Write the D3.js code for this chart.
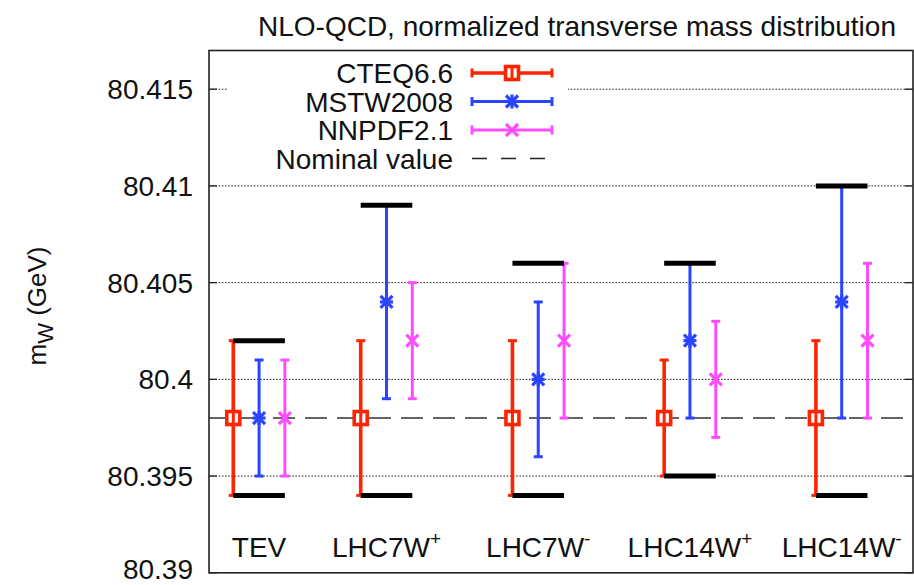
<!DOCTYPE html>
<html>
<head>
<meta charset="utf-8">
<script src="https://cdn.jsdelivr.net/npm/d3@7"></script>
<style>
  html, body { margin: 0; padding: 0; background: #fff; }
  svg { display: block; font-family: "Liberation Sans", Arial, Helvetica, sans-serif; }
</style>
</head>
<body>
<svg id="chart" width="914" height="585"></svg>
<script>
// Categories (collider / W charge) and their positions along x
const catMain = ["TEV", "LHC7W", "LHC7W", "LHC14W", "LHC14W"];
const catSup  = ["", "+", "-", "+", "-"];
const catX    = [0.16, 1, 2, 3, 4];

// Fitted W mass per PDF set: central value with lower/upper PDF uncertainty
const cteqCentral  = [80.398, 80.398, 80.398, 80.398, 80.398];
const cteqLow      = [80.394, 80.394, 80.394, 80.395, 80.394];
const cteqHigh     = [80.402, 80.402, 80.402, 80.401, 80.402];

const mstwCentral  = [80.398, 80.404, 80.400, 80.402, 80.404];
const mstwLow      = [80.395, 80.399, 80.396, 80.398, 80.398];
const mstwHigh     = [80.401, 80.409, 80.404, 80.406, 80.410];

const nnpdfCentral = [80.398, 80.402, 80.402, 80.400, 80.402];
const nnpdfLow     = [80.395, 80.399, 80.398, 80.397, 80.398];
const nnpdfHigh    = [80.401, 80.405, 80.406, 80.403, 80.406];

const nominalValue = 80.398;

// y axis ticks
const yTicks      = [80.39, 80.395, 80.4, 80.405, 80.41, 80.415];
const yTickLabels = ["80.39", "80.395", "80.4", "80.405", "80.41", "80.415"];

const seriesNames = ["CTEQ6.6", "MSTW2008", "NNPDF2.1"];

const series = [
  { name: seriesNames[0], c: cteqCentral,  lo: cteqLow,  hi: cteqHigh,  color: "#ff2400", dx: -0.17, marker: "square", lw: 3.6 },
  { name: seriesNames[1], c: mstwCentral,  lo: mstwLow,  hi: mstwHigh,  color: "#2a44ff", dx: 0,     marker: "star",   lw: 3 },
  { name: seriesNames[2], c: nnpdfCentral, lo: nnpdfLow, hi: nnpdfHigh, color: "#ff4cff", dx: 0.17,  marker: "cross",  lw: 3 }
];

const svg = d3.select("#chart");
const pLeft = 209, pRight = 913, pTop = 50.5, pBottom = 572.8;

const x = d3.scaleLinear().domain([-0.17, 4.47]).range([pLeft, pRight]);
const y = d3.scaleLinear().domain([80.39, 80.417]).range([pBottom, pTop]);

// grid lines (dotted) with short solid ticks at both ends
const grid = svg.append("g");
yTicks.filter(v => v > 80.39).forEach(v => {
  grid.append("line")
    .attr("x1", pLeft).attr("x2", pRight)
    .attr("y1", y(v)).attr("y2", y(v))
    .attr("stroke", "#222").attr("stroke-width", 1)
    .attr("stroke-dasharray", "1.6,1.6");
});
yTicks.forEach(v => {
  grid.append("line").attr("x1", pLeft).attr("x2", pLeft + 8)
    .attr("y1", y(v)).attr("y2", y(v)).attr("stroke", "#222").attr("stroke-width", 1.3);
  grid.append("line").attr("x1", pRight - 8).attr("x2", pRight)
    .attr("y1", y(v)).attr("y2", y(v)).attr("stroke", "#222").attr("stroke-width", 1.3);
});

// y tick labels (the lowest one kept inside the canvas)
svg.append("g").selectAll("text").data(yTicks).join("text")
  .attr("x", 193).attr("y", d => Math.min(y(d), 569))
  .attr("dy", "0.36em")
  .attr("text-anchor", "end")
  .attr("font-size", 28)
  .attr("fill", "#111")
  .text((d, i) => yTickLabels[i]);

// y axis title
const yt = svg.append("text")
  .attr("transform", "translate(46,306) rotate(-90)")
  .attr("text-anchor", "middle")
  .attr("font-size", 26)
  .attr("fill", "#111");
yt.append("tspan").text("m");
yt.append("tspan").attr("dy", 7).attr("font-size", 22).text("W");
yt.append("tspan").attr("dy", -7).text(" (GeV)");

// chart title
svg.append("text")
  .attr("x", 258).attr("y", 36)
  .attr("font-size", 28)
  .attr("fill", "#111")
  .text("NLO-QCD, normalized transverse mass distribution");

// nominal value line
svg.append("line")
  .attr("x1", pLeft).attr("x2", pRight)
  .attr("y1", y(nominalValue)).attr("y2", y(nominalValue))
  .attr("stroke", "#333").attr("stroke-width", 1.6)
  .attr("stroke-dasharray", "22,10");

// marker shapes
function drawMarker(g, type, cx, cy, color) {
  if (type === "square") {
    g.append("rect").attr("x", cx - 6.5).attr("y", cy - 6.5)
      .attr("width", 13).attr("height", 13)
      .attr("fill", "#fff").attr("stroke", color).attr("stroke-width", 3.6);
    g.append("line").attr("x1", cx).attr("x2", cx).attr("y1", cy - 6.5).attr("y2", cy + 6.5)
      .attr("stroke", color).attr("stroke-width", 3);
  } else {
    const r = 6;
    const segs = [[-r, -r, r, r], [-r, r, r, -r]];
    if (type === "star") segs.push([-r - 0.5, 0, r + 0.5, 0], [0, -r - 1, 0, r + 1]);
    segs.forEach(s => g.append("line")
      .attr("x1", cx + s[0]).attr("y1", cy + s[1])
      .attr("x2", cx + s[2]).attr("y2", cy + s[3])
      .attr("stroke", color).attr("stroke-width", 3.2));
  }
}

// error bars
const bars = svg.append("g");
series.forEach(s => {
  catX.forEach((cx, i) => {
    const px = x(cx + s.dx);
    bars.append("line").attr("x1", px).attr("x2", px)
      .attr("y1", y(s.lo[i])).attr("y2", y(s.hi[i]))
      .attr("stroke", s.color).attr("stroke-width", s.lw);
    [s.lo[i], s.hi[i]].forEach(v => bars.append("line")
      .attr("x1", px - 4.5).attr("x2", px + 4.5)
      .attr("y1", y(v)).attr("y2", y(v))
      .attr("stroke", s.color).attr("stroke-width", 3));
    drawMarker(bars, s.marker, px, y(s.c[i]), s.color);
  });
});

// envelope of all PDF sets: thick black bars at overall max and min
const env = svg.append("g");
catX.forEach((cx, i) => {
  const hiAll = d3.max(series, s => s.hi[i]);
  const loAll = d3.min(series, s => s.lo[i]);
  const x1 = x(cx + series[0].dx), x2 = x(cx + series[2].dx);
  [hiAll, loAll].forEach(v => env.append("line")
    .attr("x1", x1).attr("x2", x2)
    .attr("y1", y(v)).attr("y2", y(v))
    .attr("stroke", "#000").attr("stroke-width", 5));
});

// category labels inside the plot
svg.append("g").selectAll("text").data(catX).join("text")
  .attr("x", d => x(d)).attr("y", 557)
  .attr("text-anchor", "middle")
  .attr("font-size", 28)
  .attr("fill", "#111")
  .each(function(d, i) {
    const t = d3.select(this);
    t.append("tspan").text(catMain[i]);
    if (catSup[i]) t.append("tspan").attr("dy", -12).attr("font-size", 19).text(catSup[i]);
  });

// legend (opaque background over the grid)
const lg = svg.append("g");
lg.append("rect").attr("x", 227).attr("y", 57).attr("width", 341).attr("height", 116).attr("fill", "#fff");
const rowY = [73, 101.5, 130, 158.5];
const lx1 = 472, lx2 = 552;
series.forEach((s, k) => {
  const yy = rowY[k];
  lg.append("text").attr("x", 453).attr("y", yy).attr("dy", "0.36em")
    .attr("text-anchor", "end").attr("font-size", 28).attr("fill", "#111").text(s.name);
  lg.append("line").attr("x1", lx1).attr("x2", lx2).attr("y1", yy).attr("y2", yy)
    .attr("stroke", s.color).attr("stroke-width", s.lw);
  [lx1, lx2].forEach(ex => lg.append("line").attr("x1", ex).attr("x2", ex)
    .attr("y1", yy - 4.5).attr("y2", yy + 4.5)
    .attr("stroke", s.color).attr("stroke-width", 3));
  drawMarker(lg, s.marker, (lx1 + lx2) / 2, yy, s.color);
});
lg.append("text").attr("x", 453).attr("y", rowY[3]).attr("dy", "0.36em")
  .attr("text-anchor", "end").attr("font-size", 28).attr("fill", "#111").text("Nominal value");
lg.append("line").attr("x1", lx1).attr("x2", lx2).attr("y1", rowY[3]).attr("y2", rowY[3])
  .attr("stroke", "#222").attr("stroke-width", 1.5).attr("stroke-dasharray", "15,14");

// plot frame
svg.append("rect")
  .attr("x", pLeft).attr("y", pTop)
  .attr("width", pRight - pLeft).attr("height", pBottom - pTop)
  .attr("fill", "none").attr("stroke", "#222").attr("stroke-width", 1.6);
</script>
</body>
</html>
